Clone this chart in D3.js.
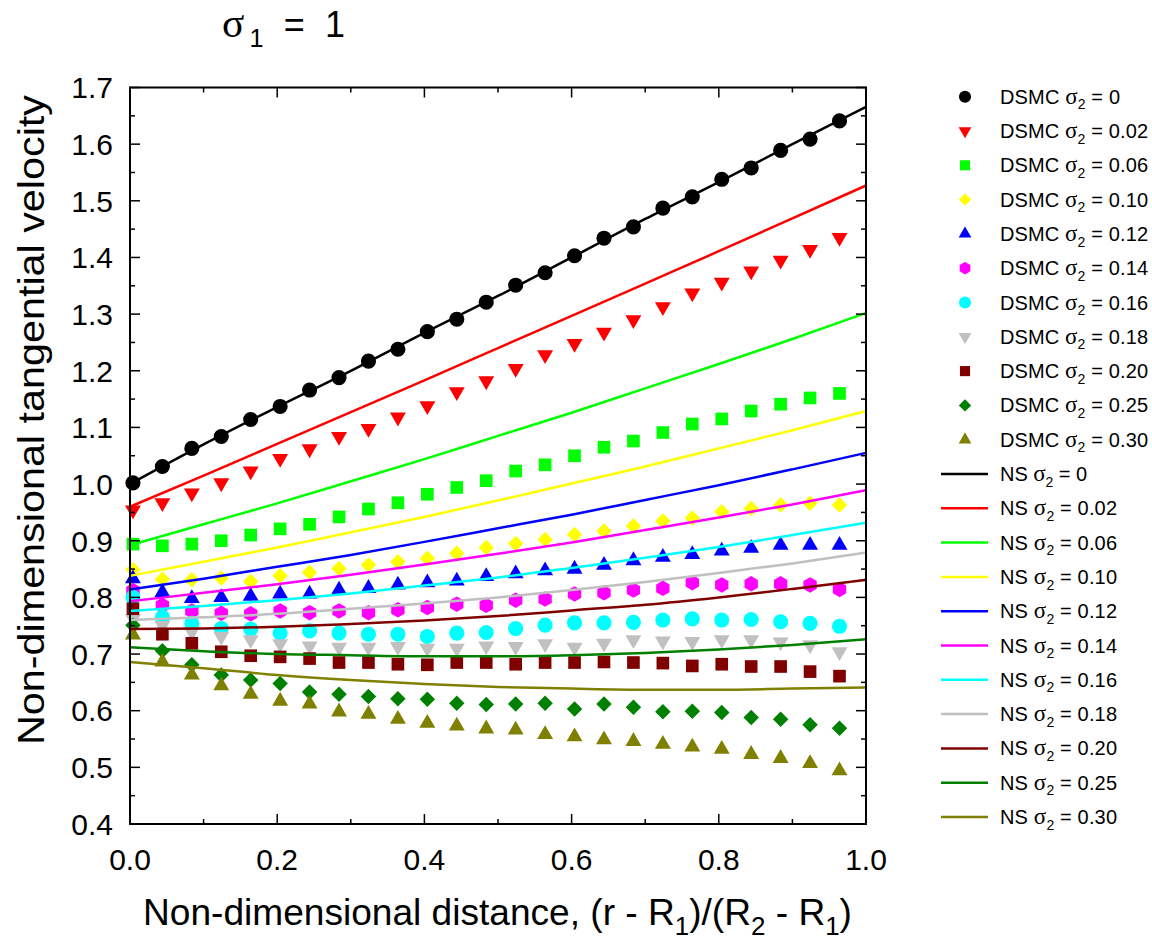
<!DOCTYPE html>
<html>
<head>
<meta charset="utf-8">
<script src="https://cdn.jsdelivr.net/npm/d3@7"></script>
<style>
  body { margin: 0; background: #fff; }
  text { font-family: "Liberation Sans", Arial, sans-serif; fill: #000; }
</style>
</head>
<body>
<div id="chart"></div>
<script>
// x positions of the DSMC samples
var xs = [0.004, 0.044, 0.084, 0.124, 0.164, 0.204, 0.244, 0.284, 0.324, 0.364, 0.404, 0.444, 0.484,
          0.524, 0.564, 0.604, 0.644, 0.684, 0.724, 0.764, 0.804, 0.844, 0.884, 0.924, 0.964];
// x positions of the NS curve samples
var nsX = [0, 0.1, 0.2, 0.3, 0.4, 0.5, 0.6, 0.7, 0.8, 0.9, 1.0];

var sigma2 = ["0", "0.02", "0.06", "0.10", "0.12", "0.14", "0.16", "0.18", "0.20", "0.25", "0.30"];
var colors = ["#000000", "#ff0000", "#00ff00", "#ffff00", "#0000ff", "#ff00ff", "#00ffff", "#c0c0c0", "#800000", "#008000", "#808000"];
var shapes = ["circle", "triangleDown", "square", "diamond", "triangle", "hexagon", "circle", "triangleDown", "square", "diamond", "triangle"];

// DSMC values
var dsmc000 = [1.002, 1.031, 1.063, 1.084, 1.114, 1.137, 1.166, 1.188, 1.217, 1.238, 1.269, 1.291, 1.321,
               1.351, 1.373, 1.403, 1.434, 1.454, 1.487, 1.507, 1.538, 1.558, 1.589, 1.609, 1.641];
var dsmc002 = [0.954, 0.967, 0.984, 1.002, 1.023, 1.045, 1.062, 1.084, 1.098, 1.118, 1.138, 1.163, 1.182,
               1.204, 1.228, 1.248, 1.268, 1.290, 1.313, 1.337, 1.356, 1.376, 1.395, 1.414, 1.435];
var dsmc006 = [0.894, 0.891, 0.894, 0.900, 0.910, 0.921, 0.929, 0.942, 0.956, 0.967, 0.982, 0.994, 1.006,
               1.023, 1.034, 1.050, 1.065, 1.076, 1.091, 1.106, 1.115, 1.129, 1.141, 1.152, 1.160];
var dsmc010 = [0.849, 0.832, 0.831, 0.834, 0.828, 0.838, 0.844, 0.851, 0.857, 0.863, 0.869, 0.878, 0.888,
               0.895, 0.902, 0.911, 0.917, 0.926, 0.935, 0.940, 0.951, 0.957, 0.963, 0.966, 0.963];
var dsmc012 = [0.833, 0.809, 0.798, 0.800, 0.802, 0.806, 0.806, 0.813, 0.816, 0.822, 0.826, 0.829, 0.837,
               0.842, 0.847, 0.850, 0.857, 0.865, 0.871, 0.876, 0.882, 0.887, 0.892, 0.892, 0.892];
var dsmc014 = [0.812, 0.786, 0.776, 0.772, 0.771, 0.776, 0.773, 0.776, 0.773, 0.778, 0.782, 0.788, 0.786,
               0.795, 0.797, 0.806, 0.808, 0.813, 0.816, 0.826, 0.822, 0.824, 0.824, 0.822, 0.814];
var dsmc016 = [0.800, 0.765, 0.754, 0.745, 0.744, 0.737, 0.741, 0.737, 0.735, 0.735, 0.731, 0.737, 0.738,
               0.745, 0.751, 0.755, 0.755, 0.756, 0.760, 0.762, 0.760, 0.761, 0.757, 0.754, 0.749];
var dsmc018 = [0.762, 0.750, 0.739, 0.731, 0.725, 0.718, 0.714, 0.712, 0.712, 0.713, 0.710, 0.710, 0.714,
               0.713, 0.718, 0.712, 0.719, 0.725, 0.723, 0.722, 0.725, 0.725, 0.721, 0.716, 0.704];
var dsmc020 = [0.780, 0.735, 0.719, 0.704, 0.697, 0.695, 0.692, 0.685, 0.685, 0.682, 0.681, 0.685, 0.685,
               0.682, 0.685, 0.685, 0.686, 0.685, 0.684, 0.679, 0.682, 0.678, 0.678, 0.669, 0.661];
var dsmc025 = [0.751, 0.706, 0.681, 0.663, 0.654, 0.648, 0.633, 0.629, 0.625, 0.621, 0.620, 0.613, 0.611,
               0.612, 0.613, 0.603, 0.612, 0.606, 0.598, 0.599, 0.597, 0.588, 0.585, 0.575, 0.569];
var dsmc030 = [0.734, 0.686, 0.663, 0.644, 0.629, 0.617, 0.612, 0.598, 0.594, 0.585, 0.578, 0.573, 0.568,
               0.566, 0.558, 0.554, 0.549, 0.546, 0.541, 0.536, 0.532, 0.523, 0.516, 0.507, 0.494];

// NS values
var ns000 = [1.000, 1.070, 1.136, 1.200, 1.267, 1.332, 1.400, 1.468, 1.533, 1.600, 1.666];
var ns002 = [0.960, 1.015, 1.071, 1.127, 1.183, 1.240, 1.297, 1.354, 1.411, 1.469, 1.527];
var ns006 = [0.892, 0.929, 0.966, 1.005, 1.044, 1.085, 1.126, 1.169, 1.212, 1.256, 1.302];
var ns010 = [0.838, 0.863, 0.888, 0.915, 0.942, 0.971, 1.001, 1.031, 1.063, 1.095, 1.129];
var ns012 = [0.814, 0.833, 0.854, 0.875, 0.898, 0.922, 0.946, 0.972, 0.998, 1.026, 1.055];
var ns014 = [0.793, 0.808, 0.823, 0.840, 0.858, 0.877, 0.897, 0.919, 0.941, 0.964, 0.989];
var ns016 = [0.776, 0.785, 0.795, 0.807, 0.821, 0.835, 0.852, 0.870, 0.889, 0.910, 0.932];
var ns018 = [0.760, 0.765, 0.771, 0.780, 0.789, 0.800, 0.813, 0.827, 0.843, 0.860, 0.879];
var ns020 = [0.744, 0.745, 0.748, 0.753, 0.759, 0.767, 0.777, 0.787, 0.800, 0.815, 0.831];
var ns025 = [0.712, 0.705, 0.700, 0.698, 0.696, 0.696, 0.698, 0.702, 0.708, 0.716, 0.726];
var ns030 = [0.686, 0.675, 0.663, 0.654, 0.647, 0.642, 0.639, 0.637, 0.637, 0.639, 0.641];

var dsmcSeries = [dsmc000, dsmc002, dsmc006, dsmc010, dsmc012, dsmc014, dsmc016, dsmc018, dsmc020, dsmc025, dsmc030];
var nsSeries = [ns000, ns002, ns006, ns010, ns012, ns014, ns016, ns018, ns020, ns025, ns030];

var xTicks = [0, 0.2, 0.4, 0.6, 0.8, 1.0];
var yTicks = [0.4, 0.5, 0.6, 0.7, 0.8, 0.9, 1.0, 1.1, 1.2, 1.3, 1.4, 1.5, 1.6, 1.7];

var W = 1152, H = 942;
var margin = {top: 87.5, right: 286, bottom: 118, left: 130},
    width = W - margin.left - margin.right,
    height = H - margin.top - margin.bottom;

var svg = d3.select("#chart").append("svg")
    .attr("width", W)
    .attr("height", H);

var g = svg.append("g")
    .attr("transform", "translate(" + margin.left + "," + margin.top + ")");

var x = d3.scaleLinear().domain([0, 1]).range([0, width]);
var y = d3.scaleLinear().domain([0.4, 1.7]).range([height, 0]);

// hexagon symbol, pointy top
var symbolHexagon = {
  draw: function(context, size) {
    var r = Math.sqrt(size / (1.5 * Math.sqrt(3)));
    for (var i = 0; i < 6; i++) {
      var a = Math.PI / 2 + i * Math.PI / 3;
      var px = r * Math.cos(a), py = r * Math.sin(a);
      if (i === 0) context.moveTo(px, py); else context.lineTo(px, py);
    }
    context.closePath();
  }
};

function markerPath(shape, k) {
  var s = k * k;
  if (shape === "circle") return d3.symbol(d3.symbolCircle, 180 * s)();
  if (shape === "square") return d3.symbol(d3.symbolSquare, 160 * s)();
  if (shape === "diamond") return d3.symbol(d3.symbolSquare, 120 * s)();
  if (shape === "hexagon") return d3.symbol(symbolHexagon, 155 * s)();
  return d3.symbol(d3.symbolTriangle, 110 * s)();
}
function markerRotate(shape) {
  if (shape === "triangleDown") return 180;
  if (shape === "diamond") return 45;
  return 0;
}

// DSMC markers
dsmcSeries.forEach(function(vals, i) {
  g.append("g").selectAll("path")
    .data(vals)
    .enter().append("path")
      .attr("d", markerPath(shapes[i], 1))
      .attr("transform", function(d, j) {
        return "translate(" + x(xs[j]) + "," + y(d) + ") rotate(" + markerRotate(shapes[i]) + ")";
      })
      .attr("fill", colors[i]);
});

// NS curves
var line = d3.line()
  .x(function(d, j) { return x(nsX[j]); })
  .y(function(d) { return y(d); })
  .curve(d3.curveMonotoneX);

nsSeries.forEach(function(vals, i) {
  g.append("path")
    .datum(vals)
    .attr("d", line)
    .attr("fill", "none")
    .attr("stroke", colors[i])
    .attr("stroke-width", 2.5);
});

// frame
g.append("rect")
  .attr("width", width)
  .attr("height", height)
  .attr("fill", "none")
  .attr("stroke", "#000")
  .attr("stroke-width", 2);

// inner ticks on all four sides
var xMinor = d3.range(0, 1.0001, 0.1);
var yMinor = d3.range(0.4, 1.7001, 0.05);
function isMajorX(v) { return Math.abs(v * 5 - Math.round(v * 5)) < 1e-6; }
function isMajorY(v) { return Math.abs(v * 10 - Math.round(v * 10)) < 1e-6; }

var ticks = g.append("g").attr("stroke", "#000").attr("stroke-width", 1.5);
xMinor.forEach(function(v) {
  var len = isMajorX(v) ? 10 : 5;
  ticks.append("line").attr("x1", x(v)).attr("x2", x(v)).attr("y1", height).attr("y2", height - len);
  ticks.append("line").attr("x1", x(v)).attr("x2", x(v)).attr("y1", 0).attr("y2", len);
});
yMinor.forEach(function(v) {
  var len = isMajorY(v) ? 10 : 5;
  ticks.append("line").attr("x1", 0).attr("x2", len).attr("y1", y(v)).attr("y2", y(v));
  ticks.append("line").attr("x1", width).attr("x2", width - len).attr("y1", y(v)).attr("y2", y(v));
});

// tick labels
g.append("g").selectAll("text")
  .data(xTicks)
  .enter().append("text")
    .attr("x", function(d) { return x(d); })
    .attr("y", height + 46)
    .attr("text-anchor", "middle")
    .attr("font-size", 30)
    .text(function(d) { return d.toFixed(1); });

g.append("g").selectAll("text")
  .data(yTicks)
  .enter().append("text")
    .attr("x", -17)
    .attr("y", function(d) { return y(d); })
    .attr("dy", "0.36em")
    .attr("text-anchor", "end")
    .attr("font-size", 30)
    .text(function(d) { return d.toFixed(1); });

// text with subscripts: each part is [text, isSub, isSigma]
function richText(sel, list, size) {
  var prevSub = false;
  list.forEach(function(p) {
    var t = sel.append("tspan").text(p[0]);
    if (p[2]) t.style("font-family", "'Liberation Serif', serif").attr("font-size", size * 1.15);
    if (p[1]) {
      t.attr("font-size", size * 0.7).attr("dy", size * 0.28);
    } else if (prevSub) {
      t.attr("dy", -size * 0.28);
    }
    prevSub = !!p[1];
  });
}

// axis titles
var xt = svg.append("text")
  .attr("x", 143)
  .attr("y", 925)
  .attr("font-size", 36)
  .attr("textLength", 709)
  .attr("lengthAdjust", "spacingAndGlyphs");
richText(xt, [["Non-dimensional distance, (r - R"], ["1", true], [")/(R"], ["2", true], [" - R"], ["1", true], [")"]], 36);

svg.append("text")
  .attr("transform", "translate(44,745) rotate(-90)")
  .attr("font-size", 36)
  .attr("textLength", 650)
  .attr("lengthAdjust", "spacingAndGlyphs")
  .text("Non-dimensional tangential velocity");

var title = svg.append("text")
  .attr("x", 222)
  .attr("y", 37)
  .attr("font-size", 36)
  .attr("textLength", 123)
  .attr("lengthAdjust", "spacing");
richText(title, [["σ", false, true], ["1", true], [" = 1"]], 36);

// legend
var legY0 = 96.7, legStep = 34.3;
var legend = svg.append("g");
sigma2.forEach(function(s, i) {
  var yy = legY0 + i * legStep;
  legend.append("path")
    .attr("d", markerPath(shapes[i], 0.8))
    .attr("transform", "translate(965," + yy + ") rotate(" + markerRotate(shapes[i]) + ")")
    .attr("fill", colors[i]);
  var t = legend.append("text").attr("x", 1000).attr("y", yy + 7).attr("font-size", 20)
    .attr("textLength", s === "0" ? 120 : 148)
    .attr("lengthAdjust", "spacing");
  richText(t, [["DSMC "], ["σ", false, true], ["2", true], [" = " + s]], 20);
});
sigma2.forEach(function(s, i) {
  var yy = legY0 + (i + 11) * legStep;
  legend.append("line")
    .attr("x1", 941).attr("x2", 988)
    .attr("y1", yy).attr("y2", yy)
    .attr("stroke", colors[i])
    .attr("stroke-width", 2.5);
  var t = legend.append("text").attr("x", 1000).attr("y", yy + 7).attr("font-size", 20)
    .attr("textLength", s === "0" ? 87 : 117)
    .attr("lengthAdjust", "spacing");
  richText(t, [["NS "], ["σ", false, true], ["2", true], [" = " + s]], 20);
});
</script>
</body>
</html>
